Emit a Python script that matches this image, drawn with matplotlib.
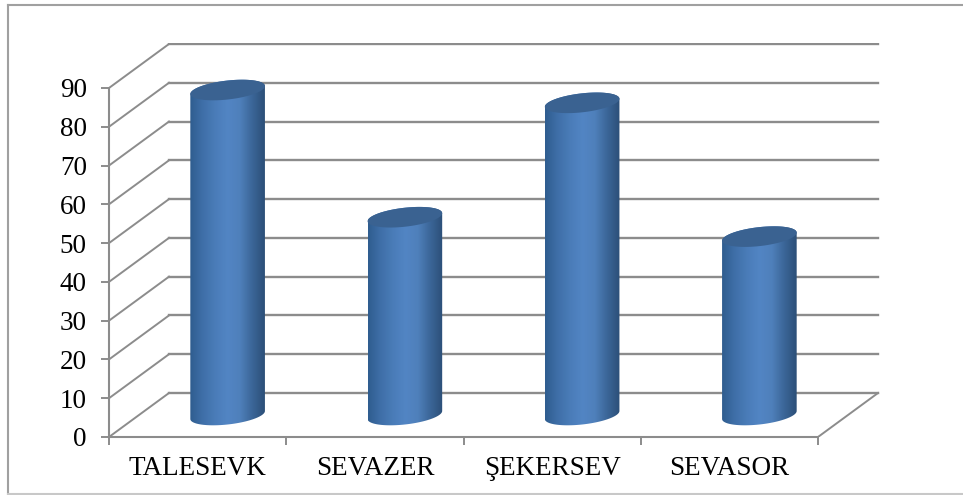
import numpy as np
import matplotlib
matplotlib.use("Agg")
import matplotlib.pyplot as plt
from matplotlib.colors import LinearSegmentedColormap
from matplotlib.lines import Line2D
from matplotlib.patches import Polygon

categories = ["TALESEVK", "SEVAZER", "ŞEKERSEV", "SEVASOR"]
values = [83.8, 51, 80.5, 46]
y_ticks = list(range(0, 100, 10))

FIG_W, FIG_H = 963, 495
LEFT, RIGHT, BOTTOM, TOP = 109, 881, 437, 43
CAT_PX = 177.25
VAL_PX = 3.878
DEPTH_X = 60 / CAT_PX
DEPTH_Y = 44 / VAL_PX
GRID = "#8c8c8c"

plt.rcParams["font.family"] = ["Liberation Serif", "DejaVu Serif"]

fig = plt.figure(figsize=(FIG_W / 100, FIG_H / 100), dpi=100)
ax = fig.add_axes([LEFT / FIG_W, 1 - BOTTOM / FIG_H, (RIGHT - LEFT) / FIG_W, (BOTTOM - TOP) / FIG_H])
ax.patch.set_alpha(0)

# outer chart frame, the right side is cut off in the reference
fx = lambda p: p / FIG_W
fy = lambda p: 1 - p / FIG_H
fig.add_artist(Line2D([fx(8), fx(963)], [fy(4.5), fy(4.5)], color="#a0a0a0", lw=1.5))
fig.add_artist(Line2D([fx(8), fx(8)], [fy(4.5), fy(494)], color="#a0a0a0", lw=1.5))
fig.add_artist(Line2D([fx(8), fx(963)], [fy(494), fy(494)], color="#c8c8c8", lw=1.5))

# walls and floor of the 3d box
n_cat = len(categories)
for v in y_ticks:
    ax.plot([0, DEPTH_X], [v, v + DEPTH_Y], color=GRID, lw=1.4, zorder=1)
    ax.plot([DEPTH_X, n_cat + DEPTH_X], [v + DEPTH_Y, v + DEPTH_Y], color=GRID, lw=1.7, zorder=1)
ax.plot([n_cat, n_cat + DEPTH_X], [0, DEPTH_Y], color=GRID, lw=1.4, zorder=1)

for side in ["top", "right"]:
    ax.spines[side].set_visible(False)
ax.spines["left"].set_bounds(0, 90)
ax.spines["bottom"].set_bounds(0, n_cat)
for side in ["left", "bottom"]:
    ax.spines[side].set_color(GRID)
    ax.spines[side].set_linewidth(1.5)

ax.set_yticks(y_ticks)
ax.set_xticks(range(n_cat + 1))
ax.set_xticklabels([])
ax.set_xticks(np.arange(n_cat) + 0.5, labels=categories, minor=True)
ax.tick_params(axis="both", which="major", length=6, width=1.4, color=GRID, direction="out")
ax.tick_params(axis="y", labelsize=19.5, pad=10)
ax.tick_params(axis="x", which="minor", length=0, labelsize=19.5, pad=14)

# cylinders
half_w = 37.3 / CAT_PX
ell_h = 9.5 / VAL_PX
shear = 4 / VAL_PX
base = 22 / VAL_PX
t = np.linspace(0, 2 * np.pi, 121)
ramp = LinearSegmentedColormap.from_list(
    "cyl", ["#2f5d8f", "#3f6fa8", "#4a7cb8", "#5285c4", "#4f80bb", "#3b6698", "#2c4f78"]
)

for i, val in enumerate(values):
    cx = i + 0.5 + DEPTH_X / 2
    top_y = base + val
    # bottom half of the base ellipse, then up the right side and across the top
    tb = np.linspace(np.pi, 2 * np.pi, 60)
    bx = cx + half_w * np.cos(tb)
    by = base + ell_h * np.sin(tb) + shear * np.cos(tb)
    tt = np.linspace(0, np.pi, 60)
    tx = cx + half_w * np.cos(tt)
    ty = top_y + ell_h * np.sin(tt) + shear * np.cos(tt)
    outline = Polygon(np.column_stack([np.r_[bx, tx], np.r_[by, ty]]), closed=True,
                      transform=ax.transData, fc="none", ec="none")
    ax.add_patch(outline)
    img = ax.imshow(np.linspace(0, 1, 128)[None, :], cmap=ramp, aspect="auto", zorder=3,
                    extent=[cx - half_w, cx + half_w, 0, top_y + ell_h + 1])
    img.set_clip_path(outline)
    ax.fill(cx + half_w * np.cos(t), top_y + ell_h * np.sin(t) + shear * np.cos(t),
            color="#3a6291", lw=0, zorder=4)

ax.set_xlim(0, (RIGHT - LEFT) / CAT_PX)
ax.set_ylim(0, (BOTTOM - TOP) / VAL_PX)

fig.savefig("out.png", dpi=100)
